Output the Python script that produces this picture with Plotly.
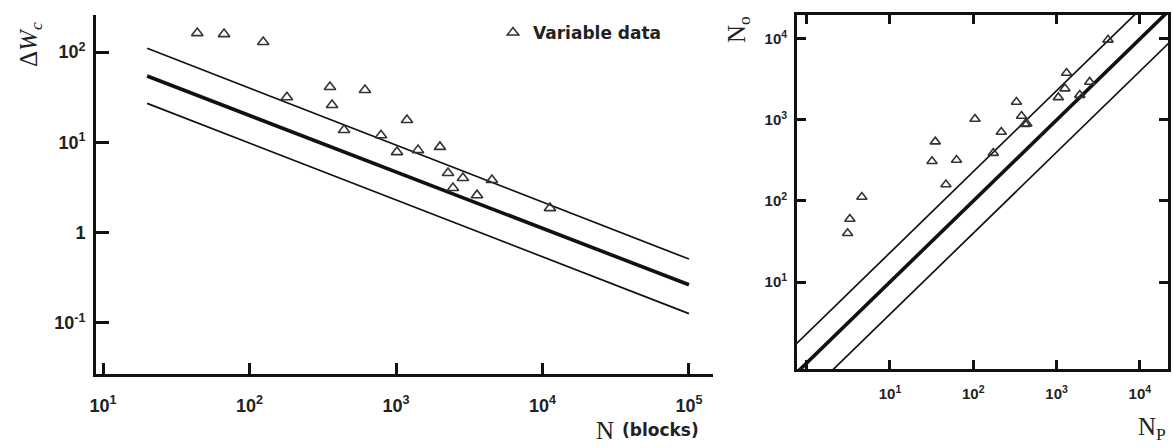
import plotly.graph_objects as go

W, H = 1173, 448

# ---------------- data ----------------
# Left panel: Delta W_c vs N (blocks)
left_N = [44, 67, 124, 180, 354, 366, 614, 442, 790, 1016, 1188, 1413, 1995, 2265, 2864, 2449, 3573, 4518, 11250]
left_dW = [162, 158, 129, 31.6, 41, 25.9, 38, 13.7, 12, 7.8, 17.7, 8.2, 8.9, 4.57, 4.03, 3.12, 2.6, 3.83, 1.87]

left_fit_N = [20, 100000]
left_fit_mid = [54.2, 0.265]
left_fit_upper = [110, 0.51]
left_fit_lower = [27, 0.127]

# Right panel: N_o vs N_p
right_Np = [105, 35, 32, 63, 47, 4.6, 3.3, 3.1, 217, 174, 330, 380, 420, 440, 1050, 1260, 1320, 1900, 2500, 4150]
right_No = [1030, 540, 310, 320, 160, 112, 60, 40, 710, 390, 1670, 1120, 890, 900, 1900, 2440, 3800, 2030, 2950, 9760]

right_fit_Np = [0.5, 30000]
right_fit_mid = [0.5, 30000]
right_fit_upper = [1.15, 69000]
right_fit_lower = [0.2, 12000]

left_xticks = [10, 100, 1000, 10000, 100000]
left_xtext = ["10<sup>1</sup>", "10<sup>2</sup>", "10<sup>3</sup>", "10<sup>4</sup>", "10<sup>5</sup>"]
left_yticks = [0.1, 1, 10, 100]
left_ytext = ["10<sup>-1</sup>", "1", "10<sup>1</sup>", "10<sup>2</sup>"]
right_xticks = [1, 10, 100, 1000, 10000]
right_xtext = ["", "10<sup>1</sup>", "10<sup>2</sup>", "10<sup>3</sup>", "10<sup>4</sup>"]
right_yticks = [10, 100, 1000, 10000]
right_ytext = ["10<sup>1</sup>", "10<sup>2</sup>", "10<sup>3</sup>", "10<sup>4</sup>"]

# ---------------- figure ----------------
INK = "#111111"
PT = "#333333"
fig = go.Figure()

marker = dict(symbol="triangle-up-open", size=10, color=PT, line=dict(width=1.6, color=PT))

fig.add_trace(go.Scatter(x=left_fit_N, y=left_fit_upper, mode="lines", line=dict(color=INK, width=1.7),
                         showlegend=False, xaxis="x", yaxis="y"))
fig.add_trace(go.Scatter(x=left_fit_N, y=left_fit_mid, mode="lines", line=dict(color=INK, width=3.6),
                         showlegend=False, xaxis="x", yaxis="y"))
fig.add_trace(go.Scatter(x=left_fit_N, y=left_fit_lower, mode="lines", line=dict(color=INK, width=1.7),
                         showlegend=False, xaxis="x", yaxis="y"))
fig.add_trace(go.Scatter(x=left_N, y=left_dW, mode="markers", marker=marker, name="Variable data",
                         showlegend=True, xaxis="x", yaxis="y"))

fig.add_trace(go.Scatter(x=right_fit_Np, y=right_fit_upper, mode="lines", line=dict(color=INK, width=1.7),
                         showlegend=False, xaxis="x2", yaxis="y2"))
fig.add_trace(go.Scatter(x=right_fit_Np, y=right_fit_mid, mode="lines", line=dict(color=INK, width=3.6),
                         showlegend=False, xaxis="x2", yaxis="y2"))
fig.add_trace(go.Scatter(x=right_fit_Np, y=right_fit_lower, mode="lines", line=dict(color=INK, width=1.7),
                         showlegend=False, xaxis="x2", yaxis="y2"))
fig.add_trace(go.Scatter(x=right_Np, y=right_No, mode="markers", marker=dict(marker, size=9),
                         showlegend=False, xaxis="x2", yaxis="y2"))

tickfont_l = dict(family="Liberation Sans, Arial, sans-serif", size=18, color="#222", weight="bold")
tickfont_r = dict(family="Liberation Sans, Arial, sans-serif", size=15, color="#222", weight="bold")

common = dict(type="log", showgrid=False, zeroline=False, showline=True, linecolor=INK, linewidth=2.8,
              ticks="inside", tickcolor=INK, tickwidth=2.6, automargin=False, tickmode="array")

fig.update_layout(
    width=W, height=H,
    margin=dict(l=0, r=0, t=0, b=0),
    paper_bgcolor="white", plot_bgcolor="white",
    xaxis=dict(common, domain=[96 / W, 713 / W], range=[0.952, 5.164], anchor="y",
               tickvals=left_xticks, ticktext=left_xtext, ticklen=11, tickfont=tickfont_l,
               ticklabelstandoff=13),
    yaxis=dict(common, domain=[(H - 374) / H, (H - 15) / H], range=[-1.565, 2.41], anchor="x",
               tickvals=left_yticks, ticktext=left_ytext, ticklen=13, tickfont=tickfont_l,
               ticklabelstandoff=4),
    xaxis2=dict(common, domain=[797 / W, 1168 / W], range=[-0.116, 4.338], anchor="y2", mirror="ticks",
                tickvals=right_xticks, ticktext=right_xtext, ticklen=9, tickfont=tickfont_r,
                ticklabelstandoff=9),
    yaxis2=dict(common, domain=[(H - 369) / H, (H - 15) / H], range=[-0.074, 4.296], anchor="x2", mirror="ticks",
                tickvals=right_yticks, ticktext=right_ytext, ticklen=9, tickfont=tickfont_r,
                ticklabelstandoff=4),
    legend=dict(x=493 / W, y=(H - 33) / H, xanchor="left", yanchor="middle", bgcolor="rgba(0,0,0,0)",
                font=dict(family="DejaVu Sans, sans-serif", size=17, color="#222", weight="bold"),
                itemwidth=30, tracegroupgap=0),
    annotations=[
        dict(text="Δ<i>W</i><sub><i>c</i></sub>", x=30 / W, y=(H - 45) / H, xref="paper", yref="paper",
             showarrow=False, textangle=-90, xanchor="center", yanchor="middle",
             font=dict(family="Liberation Serif, Times New Roman, serif", size=25, color="#222")),
        dict(text="N", x=605 / W, y=(H - 430) / H, xref="paper", yref="paper", showarrow=False,
             xanchor="center", yanchor="middle",
             font=dict(family="Liberation Serif, Times New Roman, serif", size=25, color="#222")),
        dict(text="(blocks)", x=620 / W, y=(H - 430) / H, xref="paper", yref="paper", showarrow=False,
             xanchor="left", yanchor="middle",
             font=dict(family="DejaVu Sans, sans-serif", size=17, color="#222", weight="bold")),
        dict(text="N<sub>o</sub>", x=739 / W, y=(H - 30) / H, xref="paper", yref="paper", showarrow=False,
             textangle=-90, xanchor="center", yanchor="middle",
             font=dict(family="Liberation Serif, Times New Roman, serif", size=25, color="#222")),
        dict(text="N<sub>P</sub>", x=1152 / W, y=(H - 428) / H, xref="paper", yref="paper", showarrow=False,
             xanchor="center", yanchor="middle",
             font=dict(family="Liberation Serif, Times New Roman, serif", size=25, color="#222")),
    ],
)

fig.write_html("out.html")
